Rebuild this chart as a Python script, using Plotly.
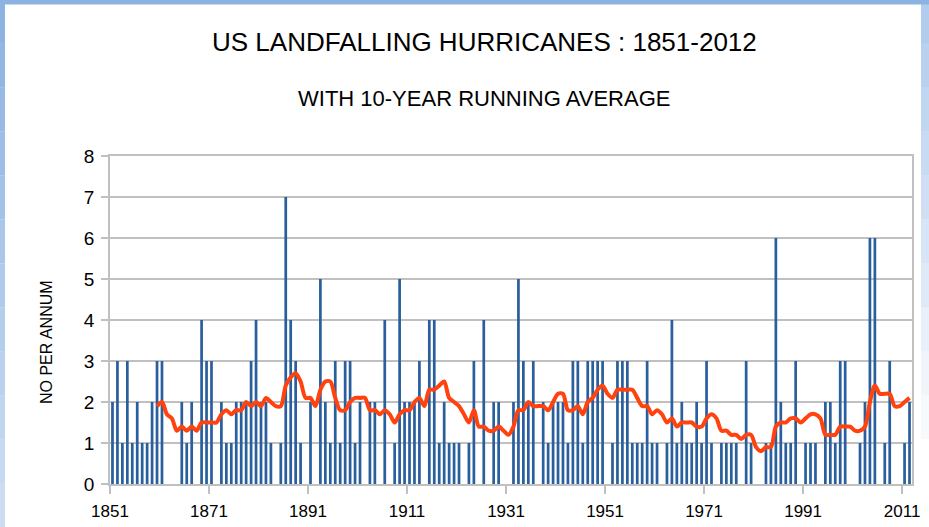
import plotly.graph_objects as go

years = list(range(1851, 2013))
hurricanes = [
    2, 3, 1, 3, 1, 2, 1, 1, 2, 3,
    3, 0, 0, 0, 2, 1, 2, 0, 4, 3,
    3, 0, 2, 1, 1, 2, 2, 2, 3, 4,
    2, 2, 1, 0, 1, 7, 4, 3, 1, 0,
    2, 0, 5, 2, 1, 3, 1, 3, 3, 1,
    2, 0, 2, 2, 0, 4, 0, 1, 5, 2,
    2, 2, 3, 0, 4, 4, 1, 2, 1, 1,
    1, 0, 1, 3, 0, 4, 0, 2, 2, 0,
    0, 2, 5, 3, 2, 3, 0, 2, 1, 2,
    2, 2, 1, 3, 3, 1, 3, 3, 3, 3,
    0, 1, 3, 3, 3, 1, 1, 1, 3, 1,
    1, 0, 1, 4, 1, 2, 1, 1, 2, 1,
    3, 1, 0, 1, 1, 1, 1, 0, 3, 1,
    0, 0, 1, 1, 6, 2, 1, 1, 3, 0,
    1, 1, 1, 0, 2, 2, 1, 3, 3, 0,
    0, 1, 2, 6, 6, 0, 1, 3, 0, 0,
    1, 2,
]

avg_years = list(range(1860, 2013))
running_avg = [
    1.9,
    2.0, 1.7, 1.6, 1.3, 1.4, 1.3, 1.4, 1.3, 1.5, 1.5,
    1.5, 1.5, 1.7, 1.8, 1.7, 1.8, 1.8, 2.0, 1.9, 2.0,
    1.9, 2.1, 2.0, 1.9, 1.9, 2.4, 2.6, 2.7, 2.5, 2.1,
    2.1, 1.9, 2.3, 2.5, 2.5, 2.1, 1.8, 1.8, 2.0, 2.1,
    2.1, 2.1, 1.8, 1.8, 1.7, 1.8, 1.7, 1.5, 1.7, 1.8,
    1.8, 2.0, 2.1, 1.9, 2.3, 2.3, 2.4, 2.5, 2.1, 2.0,
    1.9, 1.7, 1.5, 1.8, 1.4, 1.4, 1.3, 1.3, 1.4, 1.3,
    1.2, 1.4, 1.8, 1.8, 2.0, 1.9, 1.9, 1.9, 1.8, 2.0,
    2.2, 2.2, 1.8, 1.8, 1.9, 1.7, 2.0, 2.1, 2.3, 2.4,
    2.2, 2.1, 2.3, 2.3, 2.3, 2.3, 2.1, 1.9, 1.9, 1.7,
    1.8, 1.7, 1.5, 1.6, 1.4, 1.5, 1.5, 1.5, 1.4, 1.4,
    1.6, 1.7, 1.6, 1.3, 1.3, 1.2, 1.2, 1.1, 1.2, 1.2,
    0.9, 0.8, 0.9, 0.9, 1.4, 1.5, 1.5, 1.6, 1.6, 1.5,
    1.6, 1.7, 1.7, 1.6, 1.2, 1.2, 1.2, 1.4, 1.4, 1.4,
    1.3, 1.3, 1.4, 2.0, 2.4, 2.2, 2.2, 2.2, 1.9, 1.9,
    2.0, 2.1,
]

tick_labels = ["1851", "1871", "1891", "1911", "1931", "1951", "1971", "1991", "2011"]
y_ticks = [0, 1, 2, 3, 4, 5, 6, 7, 8]

FONT = "Liberation Sans, Arial, sans-serif"
GRID = "#C0C0C0"

fig = go.Figure()
fig.add_trace(go.Bar(
    x=years, y=hurricanes, width=0.55,
    marker=dict(color="#2A5F9E", line=dict(width=0)),
    showlegend=False, hoverinfo="x+y",
))
fig.add_trace(go.Scatter(
    x=avg_years, y=running_avg, mode="lines",
    line=dict(color="#FF420E", width=4, shape="spline", smoothing=0.8),
    showlegend=False,
))

L, R, T, B = 110, 912, 156, 484
W, H = 929, 527
def px(xp):
    return (xp - L) / (R - L)
def py(yp):
    return (B - yp) / (B - T)

shapes = []
n = 12
for k in range(n):
    y0p = k * H / n
    y1p = (k + 1) * H / n
    op_l = 1.0 - 0.55 * k / (n - 1)
    shapes.append(dict(type="rect", xref="paper", yref="paper", x0=px(-2), x1=px(5), y0=py(y0p), y1=py(y1p),
                       fillcolor="#8DB3E2", opacity=op_l, line=dict(width=0), layer="above"))
    op_r = max(0.0, 0.9 - 0.9 * k / (n - 2))
    if op_r > 0:
        shapes.append(dict(type="rect", xref="paper", yref="paper", x0=px(921), x1=px(W + 2), y0=py(y0p), y1=py(y1p),
                           fillcolor="#A9C6EA", opacity=op_r, line=dict(width=0), layer="above"))
shapes.append(dict(type="rect", xref="paper", yref="paper", x0=px(-2), x1=px(W + 2), y0=py(-2), y1=py(4.5),
                   fillcolor="#8DB3E2", line=dict(width=0), layer="above"))

fig.update_layout(
    width=W, height=H,
    margin=dict(l=L, r=W - R, t=T, b=H - B, autoexpand=False),
    paper_bgcolor="white", plot_bgcolor="white",
    bargap=0.45,
    shapes=shapes,
    annotations=[
        dict(text="US LANDFALLING HURRICANES : 1851-2012", xref="paper", yref="paper",
             x=px(484), y=py(42), xanchor="center", yanchor="middle", showarrow=False,
             font=dict(family=FONT, size=26, color="#000000")),
        dict(text="WITH 10-YEAR RUNNING AVERAGE", xref="paper", yref="paper",
             x=px(484), y=py(98), xanchor="center", yanchor="middle", showarrow=False,
             font=dict(family=FONT, size=22, color="#000000")),
        dict(text="NO PER ANNUM", xref="paper", yref="paper",
             x=px(46), y=py(342), xanchor="center", yanchor="middle", showarrow=False, textangle=-90,
             font=dict(family=FONT, size=16, color="#000000")),
    ],
    xaxis=dict(
        range=[1850.5, 2012.5], automargin=False,
        tickmode="array",
        tickvals=[int(t) - 0.5 for t in tick_labels],
        ticktext=tick_labels,
        ticks="outside", ticklen=8, tickwidth=1.5, tickcolor=GRID,
        ticklabelstandoff=3,
        showgrid=False, zeroline=False,
        showline=True, linecolor=GRID, linewidth=1.5, mirror=True,
        tickfont=dict(family=FONT, size=17, color="#000000"),
    ),
    yaxis=dict(
        range=[0, 8], automargin=False,
        tickmode="array", tickvals=y_ticks, ticktext=[str(v) for v in y_ticks],
        ticks="outside", ticklen=7, tickwidth=1.5, tickcolor=GRID,
        ticklabelstandoff=3,
        showgrid=True, gridcolor=GRID, gridwidth=1.5,
        zeroline=False,
        showline=True, linecolor=GRID, linewidth=1.5, mirror=True,
        tickfont=dict(family=FONT, size=19, color="#000000"),
    ),
)

fig.write_html(
    "out.html",
    config={"displayModeBar": False},
    post_script="document.body.style.margin='0';document.body.style.overflow='hidden';",
)
